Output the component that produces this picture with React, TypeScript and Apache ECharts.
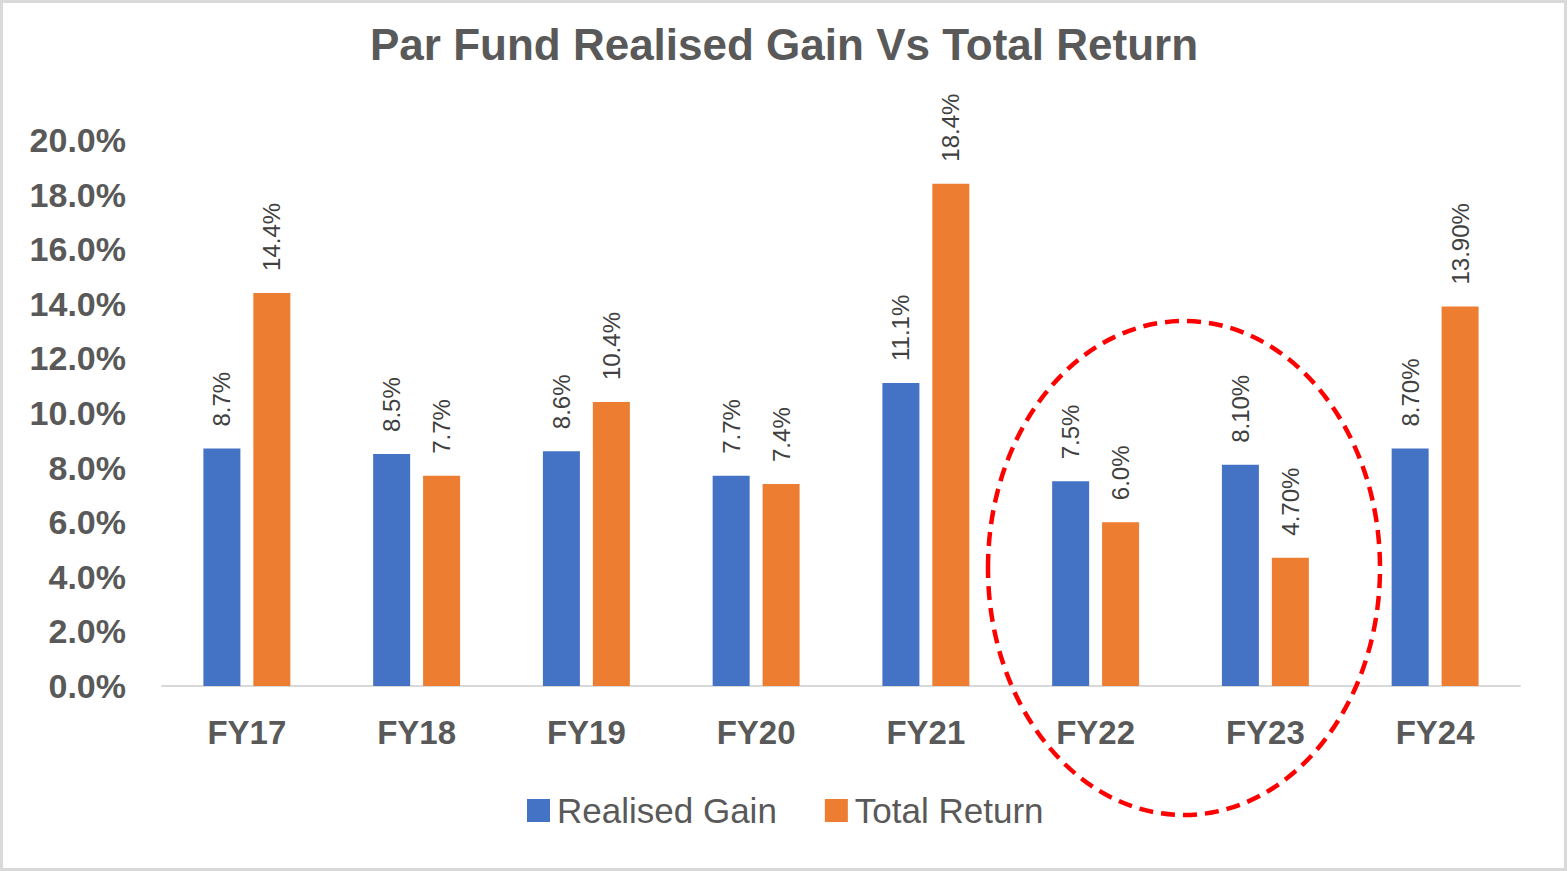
import React, { useEffect, useRef } from "react";
import * as echarts from "echarts";

const categories = ["FY17", "FY18", "FY19", "FY20", "FY21", "FY22", "FY23", "FY24"];
const realisedGain = [8.7, 8.5, 8.6, 7.7, 11.1, 7.5, 8.1, 8.7];
const totalReturn = [14.4, 7.7, 10.4, 7.4, 18.4, 6.0, 4.7, 13.9];
const realisedGainLabels = ["8.7%", "8.5%", "8.6%", "7.7%", "11.1%", "7.5%", "8.10%", "8.70%"];
const totalReturnLabels = ["14.4%", "7.7%", "10.4%", "7.4%", "18.4%", "6.0%", "4.70%", "13.90%"];
const yTicks = [0, 2, 4, 6, 8, 10, 12, 14, 16, 18, 20];

const FONT = "'Liberation Sans', Arial, sans-serif";
const TEXT = "#595959";

export default function App() {
  const ref = useRef<HTMLDivElement>(null);

  useEffect(() => {
    document.body.style.margin = "0";
    if (!ref.current) return;
    const chart = echarts.init(ref.current, null, { renderer: "svg" });

    const labelFor = (labels: string[]) => ({
      show: true,
      position: "top",
      rotate: 90,
      align: "left",
      verticalAlign: "middle",
      distance: 22,
      fontSize: 24,
      fontFamily: FONT,
      color: "#404040",
      formatter: (p: any) => labels[p.dataIndex],
    });

    chart.setOption({
      animation: false,
      backgroundColor: "#ffffff",
      title: {
        text: "Par Fund Realised Gain Vs Total Return",
        left: "center",
        top: 17,
        textStyle: { fontSize: 44, fontWeight: "bold", color: TEXT, fontFamily: FONT },
      },
      grid: { left: 162, right: 48, top: 140, bottom: 185, containLabel: false },
      legend: {
        left: 522,
        top: 788,
        itemWidth: 23,
        itemHeight: 23,
        itemGap: 48,
        icon: "rect",
        textStyle: { fontSize: 35, color: TEXT, fontFamily: FONT, padding: [0, 0, 0, 2] },
        data: ["Realised Gain", "Total Return"],
      },
      xAxis: {
        type: "category",
        data: categories,
        axisTick: { show: false },
        axisLine: { lineStyle: { color: "#d9d9d9", width: 2 } },
        axisLabel: { fontSize: 33, fontWeight: "bold", color: TEXT, fontFamily: FONT, margin: 30 },
      },
      yAxis: {
        type: "value",
        min: yTicks[0],
        max: yTicks[yTicks.length - 1],
        interval: 2,
        splitLine: { show: false },
        axisLine: { show: false },
        axisTick: { show: false },
        axisLabel: {
          fontSize: 34,
          fontWeight: "bold",
          color: TEXT,
          fontFamily: FONT,
          margin: 36,
          formatter: (v: number) => v.toFixed(1) + "%",
        },
      },
      series: [
        {
          name: "Realised Gain",
          type: "bar",
          data: realisedGain,
          barWidth: 37,
          barGap: "35%",
          itemStyle: { color: "#4472C4" },
          label: labelFor(realisedGainLabels),
        },
        {
          name: "Total Return",
          type: "bar",
          data: totalReturn,
          barWidth: 37,
          barGap: "35%",
          itemStyle: { color: "#ED7D31" },
          label: labelFor(totalReturnLabels),
        },
      ],
      graphic: [
        {
          type: "rect",
          shape: { x: 1.5, y: 1.5, width: 1564, height: 868 },
          style: { fill: "none", stroke: "#d9d9d9", lineWidth: 3 },
          silent: true,
          z: 100,
        },
        {
          type: "ellipse",
          shape: { cx: 1184, cy: 568, rx: 196, ry: 247 },
          style: { fill: "none", stroke: "#FF0000", lineWidth: 4.5, lineDash: [14, 8] },
          silent: true,
          z: 100,
        },
      ],
    });

    return () => chart.dispose();
  }, []);

  return <div ref={ref} style={{ width: 1568, height: 871 }} />;
}
